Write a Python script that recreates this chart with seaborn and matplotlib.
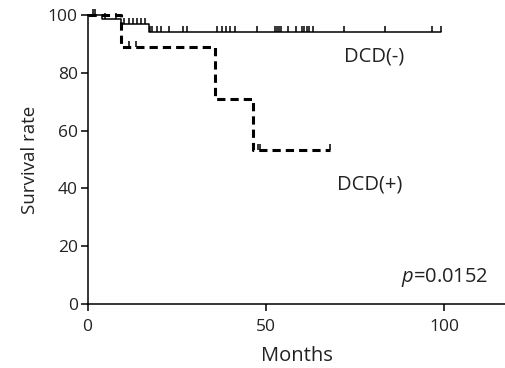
import numpy as np
import matplotlib
matplotlib.use("Agg")
import matplotlib.pyplot as plt
from matplotlib.path import Path
import seaborn as sns

# ── data ─────────────────────────────────────────
neg_times = [0, 4.1, 9.5, 17.2, 99.0]
neg_surv = [100, 98.6, 97.0, 94.0, 94.0]
neg_censor = [1.6, 2.1, 4.9, 8.0, 10.2, 11.6, 12.8, 13.9, 15.0, 16.0,
              17.6, 18.2, 19.4, 20.7, 22.7, 26.8, 27.9, 36.4, 37.6, 38.9,
              40.0, 41.3, 47.5, 52.6, 53.1, 53.6, 54.1, 56.1, 58.4, 60.0,
              60.7, 61.5, 62.2, 63.3, 72.0, 83.3, 96.6, 99.0]

pos_times = [0, 9.5, 35.7, 46.5, 68.0]
pos_surv = [100, 88.9, 71.1, 53.3, 53.3]
pos_censor = [11.6, 13.6, 47.8, 48.4, 68.0]

x_ticks = [0, 50, 100]
y_ticks = [0, 20, 40, 60, 80, 100]
p_text = "=0.0152"

sns.set_style("ticks")
plt.rcParams['font.family'] = ['Open Sans', 'DejaVu Sans']
plt.rcParams['mathtext.fontset'] = 'custom'
plt.rcParams['mathtext.it'] = 'Open Sans:italic'
plt.rcParams['mathtext.rm'] = 'Open Sans'

fig = plt.figure(figsize=(5.06, 3.68), dpi=100, facecolor='white')
ax = fig.add_axes([0.173, 0.174, 0.827, 0.785])


def level_at(times, surv, t):
    idx = np.searchsorted(times, t, side='right') - 1
    return np.asarray(surv)[idx]


tick_marker = Path([(0, 0), (0, 1)], [Path.MOVETO, Path.LINETO])

# DCD(-) solid
sns.lineplot(x=neg_times, y=neg_surv, drawstyle='steps-post', color='black',
             lw=1.1, ax=ax, estimator=None, sort=False)
ax.get_lines()[-1].set_clip_on(False)
ax.plot(neg_censor, level_at(neg_times, neg_surv, neg_censor), linestyle='none',
        marker=tick_marker, ms=9, mew=1.1, color='black', clip_on=False)

# DCD(+) dashed
sns.lineplot(x=pos_times, y=pos_surv, drawstyle='steps-post', color='black',
             lw=2.2, ax=ax, estimator=None, sort=False)
ln = ax.get_lines()[-1]
ln.set_linestyle((0, (2.7, 1.65)))
ln.set_clip_on(False)
ax.plot(pos_censor, level_at(pos_times, pos_surv, pos_censor), linestyle='none',
        marker=tick_marker, ms=9, mew=1.1, color='black', clip_on=False)

ax.set_xlim(0, 117.3)
ax.set_ylim(0, 100)
ax.set_xticks(x_ticks)
ax.set_yticks(y_ticks)
ax.tick_params(axis='both', labelsize=12.5, length=5, width=1.1, color='black',
               labelcolor='#222222')
ax.tick_params(axis='x', pad=6)
ax.tick_params(axis='y', pad=2)
for s in ['left', 'bottom']:
    ax.spines[s].set_linewidth(1.1)
    ax.spines[s].set_color('black')
sns.despine(ax=ax)

ax.set_xlabel('Months', fontsize=14.5, color='#222222', labelpad=8)
ax.set_ylabel('Survival rate', fontsize=13.5, color='#222222', labelpad=6)

ax.text(72.0, 85.5, 'DCD(-)', fontsize=14.5, va='center', ha='left', color='#222222')
ax.text(70.0, 41.5, 'DCD(+)', fontsize=14.5, va='center', ha='left', color='#222222')
ax.text(87.8, 9.0, r'$p$' + p_text, fontsize=14.5, va='center', ha='left', color='#222222')

fig.savefig('out.png', dpi=100, facecolor='white')
